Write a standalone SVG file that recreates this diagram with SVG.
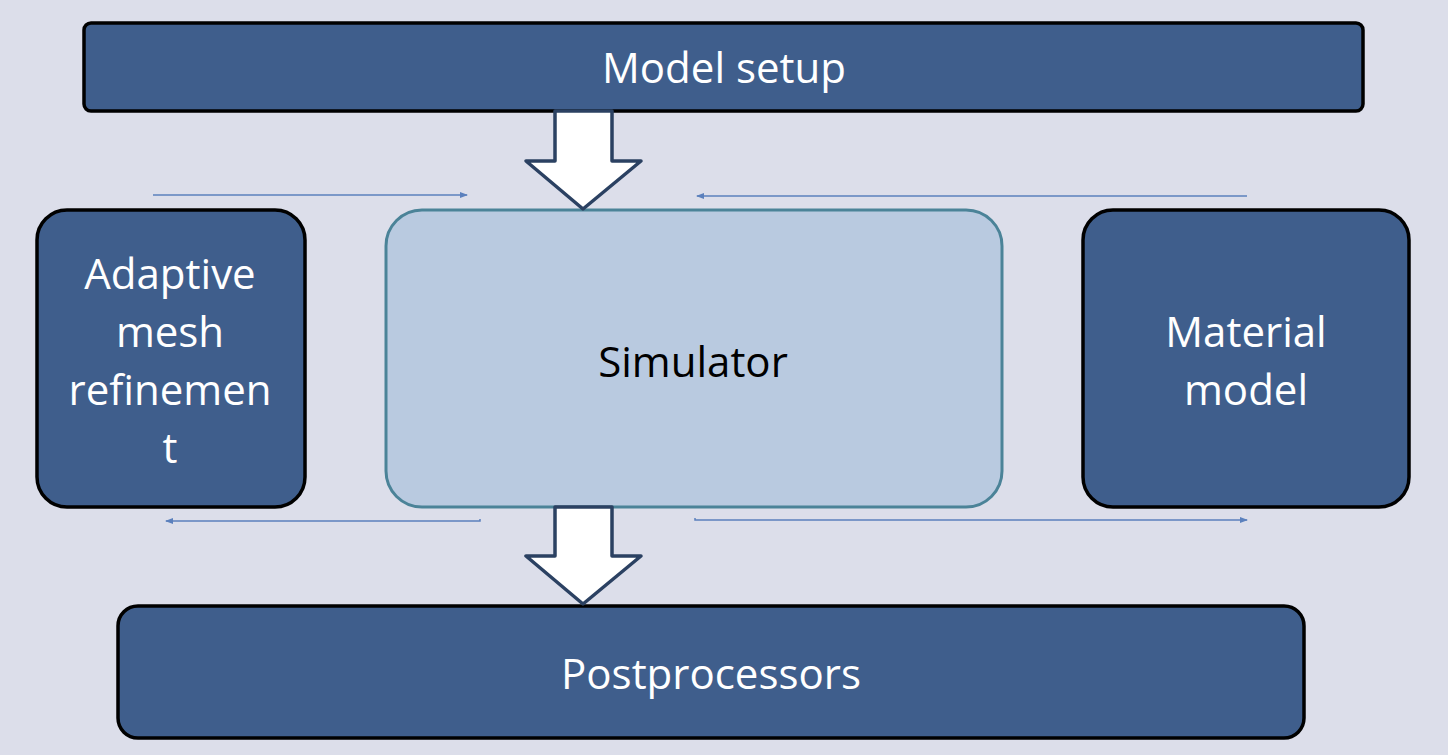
<svg xmlns="http://www.w3.org/2000/svg" width="1448" height="755" viewBox="0 0 1448 755">
<defs>
<marker id="ah" markerWidth="8" markerHeight="6" refX="7" refY="3" orient="auto" markerUnits="userSpaceOnUse">
<path d="M0,0 L8,3 L0,6 Z" fill="#5b80bd"/>
</marker>
<style>
.dark{fill:#3f5e8c;stroke:#000;stroke-width:3.5}
.sim{fill:#b9cae0;stroke:#4b8398;stroke-width:3}
.lbl{font-family:"Open Sans","Noto Sans",sans-serif;font-size:42px;text-anchor:middle;fill:#fff}
.blk{fill:#000}
.thin{stroke:#5b80bd;stroke-width:1.5;fill:none}
.big{fill:#fff;stroke:#2b4162;stroke-width:3.5;stroke-linejoin:round}
</style>
</defs>
<rect width="1448" height="755" fill="#dcdeea"/>
<g id="connectors">
<path class="thin" d="M153,195 H467" marker-end="url(#ah)"/>
<path class="thin" d="M1247,196 H697" marker-end="url(#ah)"/>
<path class="thin" d="M480,519 V521 H166" marker-end="url(#ah)"/>
<path class="thin" d="M695,518 V520 H1247" marker-end="url(#ah)"/>
</g>
<g id="model-setup">
<rect class="dark" x="84" y="23" width="1279" height="88" rx="7"/>
<text class="lbl" x="724" y="83">Model setup</text>
</g>
<g id="simulator">
<rect class="sim" x="386" y="210" width="616" height="297" rx="36"/>
<text class="lbl blk" x="693" y="377">Simulator</text>
</g>
<g id="adaptive-mesh-refinement">
<rect class="dark" x="37" y="210" width="268" height="297" rx="30"/>
<text class="lbl" x="170" y="289">Adaptive</text>
<text class="lbl" x="170" y="347">mesh</text>
<text class="lbl" x="170" y="405">refinemen</text>
<text class="lbl" x="170" y="463">t</text>
</g>
<g id="material-model">
<rect class="dark" x="1083" y="210" width="326" height="297" rx="30"/>
<text class="lbl" x="1246" y="347">Material</text>
<text class="lbl" x="1246" y="405">model</text>
</g>
<g id="postprocessors">
<rect class="dark" x="118" y="606" width="1186" height="132" rx="20"/>
<text class="lbl" x="711" y="689">Postprocessors</text>
</g>
<g id="block-arrows">
<path class="big" d="M555,111 H612 V161 H641 L583,209 L526,161 H555 Z"/>
<path class="big" d="M555,507 H612 V556 H641 L583,604 L526,556 H555 Z"/>
</g>
</svg>
